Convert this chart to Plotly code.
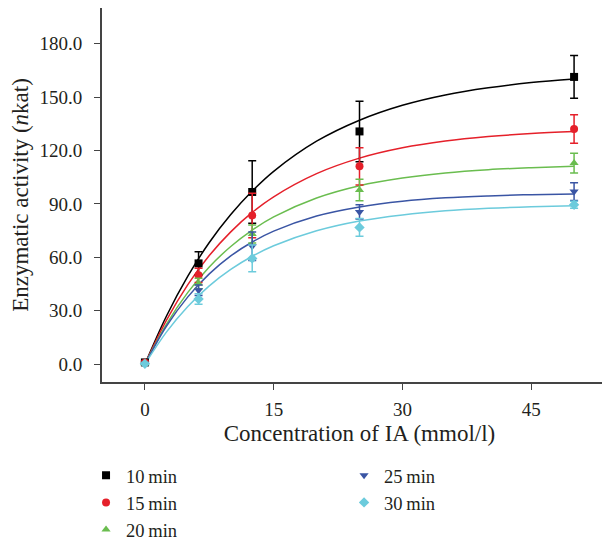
import plotly.graph_objects as go

# measured points
conc = [0, 6.25, 12.5, 25, 50]
series_names = ["10\u2009min", "15\u2009min", "20\u2009min", "25\u2009min", "30\u2009min"]
act_10 = [1.0, 56.6, 96.7, 130.7, 161.3]
err_10 = [1.0, 6.5, 17.5, 17.0, 12.0]
act_15 = [0.8, 49.9, 83.5, 111.1, 132.1]
err_15 = [0.8, 4.0, 12.5, 10.5, 8.0]
act_20 = [0.5, 45.3, 73.1, 97.8, 112.9]
err_20 = [0.5, 3.0, 5.0, 6.0, 5.5]
act_25 = [0.3, 41.5, 66.2, 85.5, 96.9]
err_25 = [0.3, 3.0, 8.0, 4.0, 5.0]
act_30 = [0.2, 36.6, 59.4, 76.8, 89.5]
err_30 = [0.2, 3.0, 7.5, 5.0, 2.0]

# fitted curves
fit_x = [0, 2.5, 5, 7.5, 10, 12.5, 15, 20, 25, 30, 35, 40, 45, 50]
fit_10 = [0, 26.9, 49.4, 68.3, 84.0, 97.2, 108.3, 125.2, 137.0, 145.4, 151.2, 155.2, 158.1, 160.1]
fit_15 = [0, 24.6, 44.7, 61.0, 74.3, 85.2, 94.0, 107.0, 115.7, 121.5, 125.3, 127.8, 129.5, 130.6]
fit_20 = [0, 22.4, 40.3, 54.6, 66.1, 75.3, 82.7, 93.3, 100.2, 104.5, 107.4, 109.2, 110.3, 111.1]
fit_25 = [0, 21.3, 37.8, 50.7, 60.8, 68.6, 74.7, 83.2, 88.3, 91.5, 93.4, 94.5, 95.2, 95.6]
fit_30 = [0, 18.0, 32.4, 44.0, 53.2, 60.6, 66.5, 74.9, 80.4, 83.8, 86.1, 87.5, 88.4, 89.0]

x_ticks = [0, 15, 30, 45]

colors = ["#000000", "#e5202a", "#6abd4f", "#3a55a4", "#6ccbdc"]
symbols = ["square", "circle", "triangle-up", "triangle-down", "diamond"]
acts = [act_10, act_15, act_20, act_25, act_30]
errs = [err_10, err_15, err_20, err_25, err_30]
fits = [fit_10, fit_15, fit_20, fit_25, fit_30]
legends = ["legend", "legend", "legend", "legend2", "legend2"]

FONT = "Liberation Serif"
TXT = "#231f20"

fig = go.Figure()
for i in range(5):
    fig.add_trace(go.Scatter(
        x=fit_x, y=fits[i], mode="lines", line=dict(color=colors[i], width=1.5, shape="spline"),
        showlegend=False, hoverinfo="skip"))
for i in range(5):
    fig.add_trace(go.Scatter(
        x=conc, y=acts[i], mode="markers", name=series_names[i],
        marker=dict(symbol=symbols[i], size=8, color=colors[i]),
        error_y=dict(type="data", array=errs[i], visible=True, color=colors[i], thickness=1.5, width=4),
        legend=legends[i]))

fig.update_layout(
    width=610, height=541,
    margin=dict(l=94, r=1, t=0, b=158),
    plot_bgcolor="white", paper_bgcolor="white",
    font=dict(family=FONT, size=19, color=TXT),
    xaxis=dict(range=[-5, 55], tickvals=x_ticks, showline=True, linecolor="#444", linewidth=2,
               ticks="outside", ticklen=6, tickwidth=1.2, tickcolor="#444", showgrid=False, zeroline=False,
               automargin=False, ticklabelstandoff=3,
               title=dict(text="Concentration of IA (mmol/l)", standoff=6)),
    yaxis=dict(range=[-10, 200], tick0=0, dtick=30, tickformat=".1f", showline=True, linecolor="#444",
               linewidth=2, ticks="outside", ticklen=6, tickwidth=1.2, tickcolor="#444", showgrid=False,
               zeroline=False, automargin=False, ticklabelstandoff=8,
               title=dict(text="Enzymatic activity (<i>n</i>kat)", standoff=6)),
    legend=dict(x=-0.031, y=-0.2, xanchor="left", yanchor="top", orientation="v",
                font=dict(family=FONT, size=18.5), bgcolor="rgba(0,0,0,0)"),
    legend2=dict(x=0.47, y=-0.2, xanchor="left", yanchor="top", orientation="v",
                 font=dict(family=FONT, size=18.5), bgcolor="rgba(0,0,0,0)"),
)

fig.write_html("out.html")
